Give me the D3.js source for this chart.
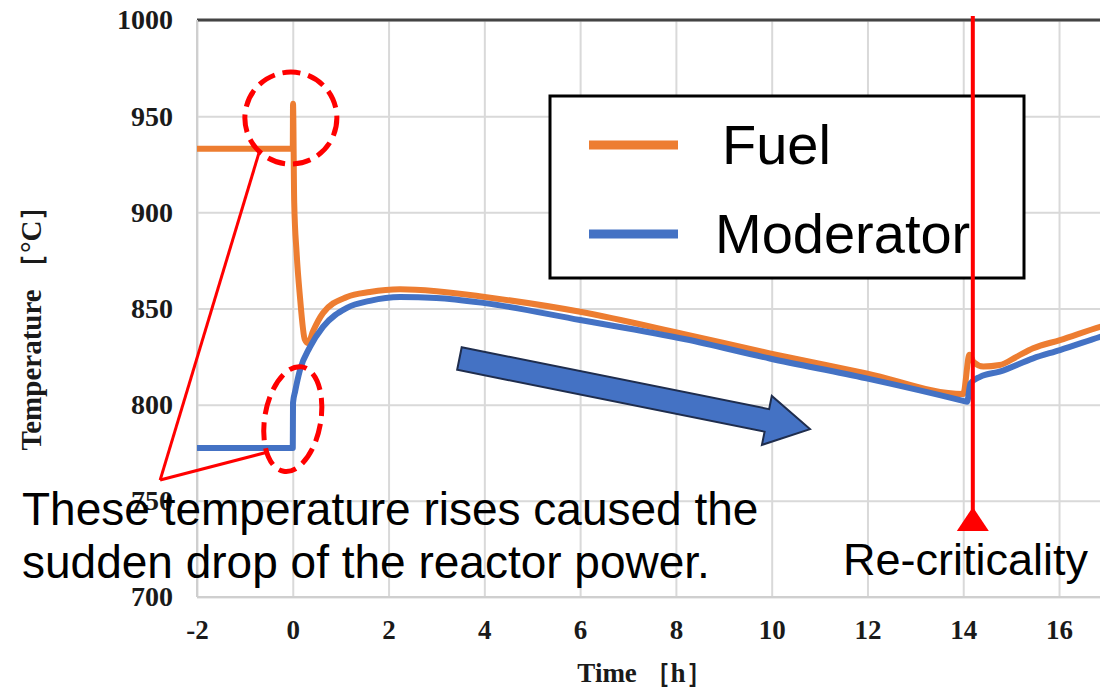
<!DOCTYPE html>
<html>
<head>
<meta charset="utf-8">
<script src="https://cdn.jsdelivr.net/npm/d3@7"></script>
<style>
  body { margin: 0; background: #fff; }
  svg { display: block; }
</style>
</head>
<body>
<svg id="chart"></svg>
<script>
// values (time in h, temperature in degC)
let fuelTime = [-2, 0, 0.005, 0.03, 0.08, 0.15, 0.25, 0.32, 0.42, 0.63, 1.13, 1.61, 2.24, 3.0, 4.01, 6.0, 8.2, 9.96, 11.98, 14.0, 14.13, 14.22, 14.42, 14.76, 15.12, 15.46, 16.02, 16.86, 17.2];
let fuelTemp = [933, 933, 956.5, 905, 879, 856, 834, 832, 838, 847.6, 856, 858.6, 860, 859, 856, 848.3, 836.5, 826.7, 816.3, 805.5, 826, 822, 819.8, 820.6, 825, 829.3, 833.6, 840.5, 843];

let modTime = [-2, 0, 0.005, 0.05, 0.15, 0.36, 0.63, 1.13, 1.61, 2.24, 3.0, 4.01, 6.0, 8.2, 9.96, 11.98, 14.0, 14.08, 14.15, 14.35, 14.76, 15.46, 16.02, 16.86, 17.2];
let modTemp = [777.5, 777.5, 801, 807, 818, 830, 840.4, 850.3, 854, 856, 855.5, 852.8, 844, 834, 824, 813.7, 802, 801.5, 811, 814.5, 817.2, 824.1, 828.4, 835.3, 838];

let xTicks = [-2, 0, 2, 4, 6, 8, 10, 12, 14, 16];
let yTicks = [700, 750, 800, 850, 900, 950, 1000];
let seriesNames = ["Fuel", "Moderator"];
let seriesColors = ["#ED7D31", "#4472C4"];

let reCriticalityTime = 14.2;
let noteLines = ["These temperature rises caused the", "sudden drop of the reactor power."];

let width = 1100, height = 687;
let margin = {top: 20, left: 197};
let plotBottom = 597;
let serif = "Liberation Serif, Times New Roman, serif";
let sans = "Liberation Sans, Arial, sans-serif";

let svg = d3.select("#chart").attr("width", width).attr("height", height);

let x = d3.scaleLinear().domain([-2, 18]).range([margin.left, margin.left + 20 * 47.89]);
let y = d3.scaleLinear().domain([700, 1000]).range([plotBottom, margin.top]);

let plotW = x(18) - x(-2), plotH = plotBottom - margin.top;

// grid + tick labels through the axes
let yAxis = d3.axisLeft(y).tickValues(yTicks).tickSize(-plotW).tickPadding(24)
  .tickFormat(d => String(d));
let gy = svg.append("g").attr("transform", "translate(" + margin.left + ",0)").call(yAxis);
gy.select(".domain").remove();
gy.selectAll("line").attr("stroke", "#d9d9d9").attr("stroke-width", 2);
gy.selectAll("text")
  .attr("font-family", serif)
  .attr("font-weight", "bold").attr("font-size", 28).attr("fill", "#1a1a1a");

let xAxis = d3.axisBottom(x).tickValues(xTicks).tickSize(-plotH).tickPadding(23)
  .tickFormat(d => String(d));
let gx = svg.append("g").attr("transform", "translate(0," + plotBottom + ")").call(xAxis);
gx.select(".domain").remove();
gx.selectAll("line").attr("stroke", "#d9d9d9").attr("stroke-width", 2);
gx.selectAll("text")
  .attr("font-family", serif)
  .attr("font-weight", "bold").attr("font-size", 27).attr("fill", "#1a1a1a");

// frame: dark top, grey left/bottom
svg.append("line").attr("x1", x(-2)).attr("x2", width).attr("y1", y(1000)).attr("y2", y(1000))
  .attr("stroke", "#444").attr("stroke-width", 3);
svg.append("line").attr("x1", x(-2)).attr("x2", x(-2)).attr("y1", y(1000)).attr("y2", y(700))
  .attr("stroke", "#cfcfcf").attr("stroke-width", 2);
svg.append("line").attr("x1", x(-2)).attr("x2", width).attr("y1", y(700)).attr("y2", y(700))
  .attr("stroke", "#cfcfcf").attr("stroke-width", 2);

// axis titles
svg.append("text")
  .attr("x", 645).attr("y", 682).attr("text-anchor", "middle")
  .attr("font-family", serif)
  .attr("font-weight", "bold").attr("font-size", 27).attr("fill", "#1a1a1a")
  .text("Time \uFF3Bh\uFF3D");

svg.append("text")
  .attr("transform", "translate(41,321) rotate(-90)")
  .attr("text-anchor", "middle")
  .attr("font-family", serif)
  .attr("font-weight", "bold").attr("font-size", 29).attr("fill", "#1a1a1a")
  .text("Temperature \uFF3B\u00B0C\uFF3D");

// curves
let line = d3.line()
  .x(d => x(d[0]))
  .y(d => y(d[1]))
  .curve(d3.curveMonotoneX);

let fuel = fuelTime.map((t, i) => [t, fuelTemp[i]]);
let moderator = modTime.map((t, i) => [t, modTemp[i]]);

svg.append("clipPath").attr("id", "plot-clip").append("rect")
  .attr("x", x(-2)).attr("y", 0).attr("width", plotW).attr("height", plotBottom);

[fuel, moderator].forEach((d, i) => {
  svg.append("path")
    .datum(d)
    .attr("clip-path", "url(#plot-clip)")
    .attr("fill", "none")
    .attr("stroke", seriesColors[i])
    .attr("stroke-width", 6)
    .attr("stroke-linejoin", "round")
    .attr("d", line);
});

// red dashed marks around the jumps
svg.append("circle")
  .attr("cx", x(-0.04)).attr("cy", y(949)).attr("r", 46)
  .attr("fill", "none").attr("stroke", "#ff0000").attr("stroke-width", 5)
  .attr("stroke-dasharray", "18,8");

svg.append("ellipse")
  .attr("transform", "translate(" + x(0) + "," + y(792.5) + ") rotate(10)")
  .attr("rx", 28).attr("ry", 53)
  .attr("fill", "none").attr("stroke", "#ff0000").attr("stroke-width", 5)
  .attr("stroke-dasharray", "18,8");

// callout lines
let callTip = [-2.77, 760.8];
[[-0.7, 931.4], [-0.52, 775.4]].forEach(p => {
  svg.append("line")
    .attr("x1", x(callTip[0])).attr("y1", y(callTip[1]))
    .attr("x2", x(p[0])).attr("y2", y(p[1]))
    .attr("stroke", "#ff0000").attr("stroke-width", 3);
});

// big block arrow for the slow decline
let aFrom = [x(3.48), y(824.0)], aTo = [x(10.8), y(787.3)];
let dx = aTo[0] - aFrom[0], dy = aTo[1] - aFrom[1];
let len = Math.hypot(dx, dy);
let ux = dx / len, uy = dy / len, nx = -uy, ny = ux;
let shaftW = 23, headW = 50, headL = 44;
let pt = (a, b) => [aFrom[0] + ux * a + nx * b, aFrom[1] + uy * a + ny * b];
let arrowPts = [
  pt(0, -shaftW / 2), pt(len - headL, -shaftW / 2), pt(len - headL, -headW / 2),
  pt(len, 0),
  pt(len - headL, headW / 2), pt(len - headL, shaftW / 2), pt(0, shaftW / 2)
];
svg.append("polygon")
  .attr("points", arrowPts.map(p => p.join(",")).join(" "))
  .attr("fill", "#4472C4").attr("stroke", "#1f2d4d").attr("stroke-width", 2)
  .attr("stroke-linejoin", "miter");

// legend
let legend = svg.append("g");
legend.append("rect")
  .attr("x", 550).attr("y", 96).attr("width", 474).attr("height", 182)
  .attr("fill", "#fff").attr("stroke", "#000").attr("stroke-width", 3);
seriesNames.forEach((name, i) => {
  let ly = 145 + i * 89;
  legend.append("line")
    .attr("x1", 589).attr("x2", 678).attr("y1", ly).attr("y2", ly)
    .attr("stroke", seriesColors[i]).attr("stroke-width", 9);
  legend.append("text")
    .attr("x", i == 0 ? 722 : 715).attr("y", ly + 19)
    .attr("font-family", sans)
    .attr("font-size", 56).attr("fill", "#000")
    .text(name);
});

// re-criticality marker
let rx = x(reCriticalityTime);
svg.append("line")
  .attr("x1", rx).attr("x2", rx).attr("y1", 16).attr("y2", 510)
  .attr("stroke", "#ff0000").attr("stroke-width", 4);
svg.append("polygon")
  .attr("points", [[rx, 507], [rx - 16, 531], [rx + 16, 531]].map(p => p.join(",")).join(" "))
  .attr("fill", "#ff0000");

svg.append("text")
  .attr("x", 843).attr("y", 575)
  .attr("font-family", sans)
  .attr("font-size", 45).attr("fill", "#000")
  .text("Re-criticality");

// note text (sits over the 750 / 700 labels, as in the original)
svg.append("text")
  .attr("font-family", sans)
  .attr("font-size", 46).attr("fill", "#000")
  .selectAll("tspan")
  .data(noteLines)
  .enter().append("tspan")
  .attr("x", 22)
  .attr("y", (d, i) => 525 + i * 53)
  .text(d => d);
</script>
</body>
</html>
